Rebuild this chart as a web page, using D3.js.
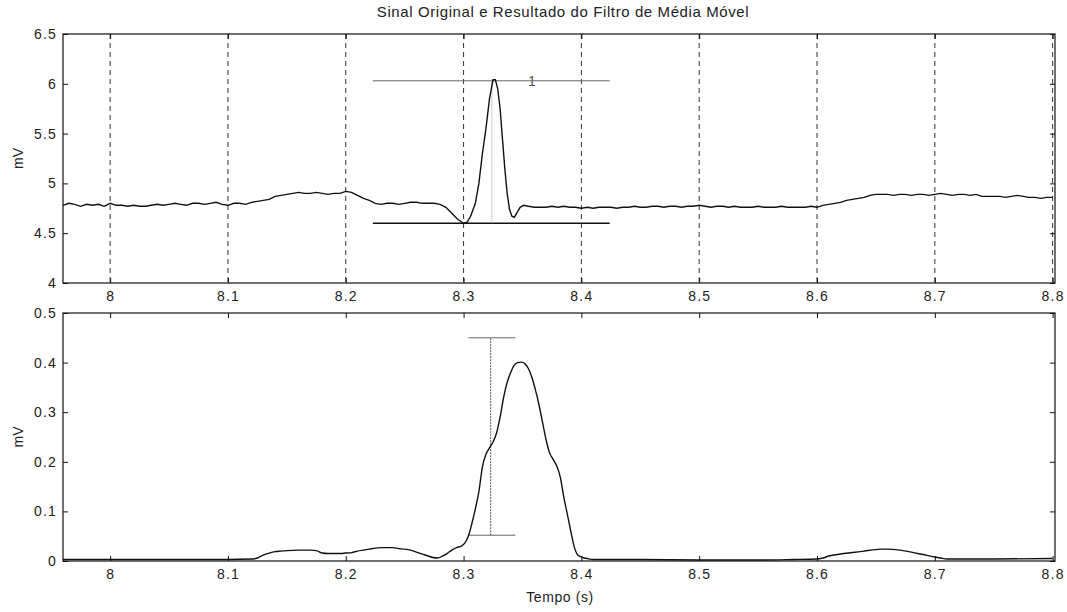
<!DOCTYPE html>
<html>
<head>
<meta charset="utf-8">
<script src="https://cdnjs.cloudflare.com/ajax/libs/d3/7.8.5/d3.min.js"></script>
<style>
  body { margin: 0; background: #fff; }
  text { font-family: "Liberation Sans", Arial, sans-serif; }
</style>
</head>
<body>
<div id="chart"></div>
<script>
// sinal original (t em s, mV)
const sinalOriginal = [
  [7.960,4.78],[7.965,4.80],[7.970,4.79],[7.975,4.77],[7.980,4.79],[7.985,4.78],[7.990,4.79],[7.995,4.77],
  [8.000,4.80],[8.005,4.78],[8.010,4.78],[8.015,4.77],[8.020,4.78],[8.025,4.77],[8.030,4.77],[8.035,4.78],
  [8.040,4.79],[8.045,4.78],[8.050,4.79],[8.055,4.80],[8.060,4.79],[8.065,4.78],[8.070,4.80],[8.075,4.80],
  [8.080,4.79],[8.085,4.80],[8.090,4.81],[8.095,4.79],[8.100,4.78],[8.105,4.80],[8.110,4.80],[8.115,4.79],
  [8.120,4.81],[8.125,4.82],[8.130,4.83],[8.135,4.84],[8.140,4.87],[8.145,4.88],[8.150,4.89],[8.155,4.90],
  [8.160,4.91],[8.165,4.90],[8.170,4.90],[8.175,4.91],[8.180,4.90],[8.185,4.89],[8.190,4.90],[8.195,4.90],
  [8.200,4.92],[8.205,4.91],[8.210,4.88],[8.215,4.85],[8.220,4.83],[8.225,4.80],[8.230,4.79],[8.235,4.80],
  [8.240,4.80],[8.245,4.79],[8.250,4.80],[8.255,4.81],[8.260,4.81],[8.265,4.80],[8.270,4.80],[8.275,4.80],
  [8.280,4.79],[8.285,4.76],[8.290,4.70],[8.295,4.64],[8.300,4.60],[8.303,4.61],[8.306,4.67],[8.310,4.80],
  [8.313,5.00],[8.316,5.30],[8.319,5.55],[8.322,5.85],[8.325,6.04],[8.327,6.04],[8.329,5.95],[8.331,5.75],
  [8.333,5.45],[8.335,5.15],[8.337,4.90],[8.339,4.74],[8.341,4.67],[8.343,4.66],[8.345,4.70],[8.348,4.76],
  [8.351,4.78],[8.355,4.77],[8.360,4.76],[8.365,4.76],[8.370,4.76],[8.375,4.77],[8.380,4.76],[8.385,4.77],
  [8.390,4.76],[8.395,4.76],[8.400,4.75],[8.405,4.76],[8.410,4.75],[8.415,4.76],[8.420,4.76],[8.425,4.76],
  [8.430,4.75],[8.435,4.76],[8.440,4.76],[8.445,4.77],[8.450,4.76],[8.455,4.76],[8.460,4.77],[8.465,4.77],
  [8.470,4.76],[8.475,4.77],[8.480,4.77],[8.485,4.76],[8.490,4.77],[8.495,4.77],[8.500,4.78],[8.505,4.77],
  [8.510,4.76],[8.515,4.77],[8.520,4.77],[8.525,4.76],[8.530,4.77],[8.535,4.76],[8.540,4.76],[8.545,4.76],
  [8.550,4.77],[8.555,4.76],[8.560,4.76],[8.565,4.76],[8.570,4.77],[8.575,4.76],[8.580,4.76],[8.585,4.76],
  [8.590,4.76],[8.595,4.77],[8.600,4.76],[8.605,4.78],[8.610,4.79],[8.615,4.80],[8.620,4.81],[8.625,4.83],
  [8.630,4.84],[8.635,4.85],[8.640,4.86],[8.645,4.88],[8.650,4.89],[8.655,4.89],[8.660,4.89],[8.665,4.88],
  [8.670,4.89],[8.675,4.89],[8.680,4.88],[8.685,4.89],[8.690,4.89],[8.695,4.88],[8.700,4.89],[8.705,4.90],
  [8.710,4.89],[8.715,4.88],[8.720,4.89],[8.725,4.89],[8.730,4.88],[8.735,4.89],[8.740,4.87],[8.745,4.87],
  [8.750,4.87],[8.755,4.87],[8.760,4.86],[8.765,4.87],[8.770,4.88],[8.775,4.87],[8.780,4.86],[8.785,4.86],
  [8.790,4.85],[8.795,4.86],[8.800,4.86]
];

// resultado do filtro de media movel
const sinalFiltrado = [
  [7.960,0.003],[8.000,0.003],[8.050,0.003],[8.100,0.003],[8.120,0.004],[8.125,0.006],[8.130,0.012],
  [8.135,0.016],[8.140,0.019],[8.145,0.020],[8.150,0.021],[8.160,0.022],[8.170,0.022],[8.175,0.021],
  [8.180,0.016],[8.185,0.015],[8.190,0.015],[8.195,0.015],[8.200,0.016],[8.205,0.017],[8.210,0.020],
  [8.215,0.022],[8.220,0.024],[8.225,0.026],[8.230,0.027],[8.235,0.027],[8.240,0.027],[8.245,0.025],
  [8.250,0.024],[8.255,0.022],[8.260,0.018],[8.265,0.014],[8.270,0.010],[8.274,0.007],[8.278,0.006],
  [8.282,0.010],[8.286,0.015],[8.290,0.022],[8.294,0.027],[8.298,0.030],[8.301,0.036],[8.304,0.050],
  [8.307,0.075],[8.310,0.105],[8.313,0.140],[8.316,0.190],[8.319,0.215],[8.322,0.228],[8.325,0.240],
  [8.328,0.258],[8.331,0.290],[8.334,0.330],[8.337,0.360],[8.340,0.380],[8.343,0.395],[8.346,0.400],
  [8.349,0.401],[8.352,0.398],[8.355,0.388],[8.358,0.370],[8.361,0.345],[8.364,0.315],[8.367,0.280],
  [8.370,0.245],[8.373,0.218],[8.376,0.205],[8.379,0.192],[8.382,0.170],[8.385,0.130],[8.388,0.095],
  [8.391,0.060],[8.394,0.028],[8.397,0.012],[8.400,0.008],[8.405,0.005],[8.410,0.003],[8.450,0.003],
  [8.500,0.002],[8.550,0.002],[8.580,0.003],[8.600,0.004],[8.605,0.006],[8.610,0.010],[8.620,0.014],
  [8.630,0.017],[8.640,0.020],[8.650,0.023],[8.655,0.024],[8.660,0.024],[8.670,0.022],[8.680,0.018],
  [8.690,0.013],[8.700,0.008],[8.705,0.006],[8.710,0.004],[8.750,0.004],[8.800,0.005]
];

let xTicks = [8, 8.1, 8.2, 8.3, 8.4, 8.5, 8.6, 8.7, 8.8];
let yTicksTop = [4, 4.5, 5, 5.5, 6, 6.5];
let yTicksBottom = [0, 0.1, 0.2, 0.3, 0.4, 0.5];

// marcacoes do pico (linhas de referencia)
let refTop = { t0: 8.223, t1: 8.424, alto: 6.03, baixo: 4.60, tPico: 8.324 };
let refBottom = { t0: 8.304, t1: 8.344, alto: 0.45, baixo: 0.052, tPico: 8.323 };

let svgWidth = 1067;
let svgHeight = 612;

let svg = d3.select("#chart")
  .append("svg")
    .attr("width", svgWidth)
    .attr("height", svgHeight)
    .style("background-color", "white");

let x = d3.scaleLinear().domain([7.96, 8.802]).range([63, 1055]);
let yTop = d3.scaleLinear().domain([4, 6.5]).range([283, 34]);
let yBot = d3.scaleLinear().domain([0, 0.5]).range([561, 313]);

let fmt = d => String(+d.toFixed(2));

function drawAxes(g, y, yTicks, grid) {
  let [y0, y1] = y.range();
  let [x0, x1] = x.range();

  if (grid) {
    g.append("g").selectAll("line").data(xTicks).enter()
      .append("line")
      .attr("x1", d => x(d)).attr("x2", d => x(d))
      .attr("y1", y1).attr("y2", y0)
      .attr("stroke", "#333")
      .attr("stroke-width", 1)
      .attr("stroke-dasharray", "5,4");
  }

  // ticks para dentro em todos os lados (estilo matlab)
  g.append("g").attr("transform", `translate(0,${y0})`)
    .call(d3.axisBottom(x).tickValues(xTicks).tickFormat(fmt).tickSize(-5).tickPadding(8));
  g.append("g").attr("transform", `translate(0,${y1})`)
    .call(d3.axisTop(x).tickValues(xTicks).tickFormat("").tickSize(-5));
  g.append("g").attr("transform", `translate(${x0},0)`)
    .call(d3.axisLeft(y).tickValues(yTicks).tickFormat(fmt).tickSize(-5).tickPadding(6));
  g.append("g").attr("transform", `translate(${x1},0)`)
    .call(d3.axisRight(y).tickValues(yTicks).tickFormat("").tickSize(-5));

  g.selectAll(".domain").remove();
  g.selectAll(".tick line").attr("stroke", "#111");
  g.selectAll(".tick text")
    .attr("fill", "#222")
    .style("font-size", "14px")
    .style("letter-spacing", "1.2px")
    .style("font-family", "'Liberation Sans', Arial, sans-serif");

  g.append("rect")
    .attr("x", x0).attr("y", y1)
    .attr("width", x1 - x0).attr("height", y0 - y1)
    .attr("fill", "none")
    .attr("stroke", "#111")
    .attr("stroke-width", 1.2);
}

let topG = svg.append("g");
let botG = svg.append("g");

drawAxes(topG, yTop, yTicksTop, true);
drawAxes(botG, yBot, yTicksBottom, false);

// linhas de referencia do painel de cima
topG.append("line")
  .attr("x1", x(refTop.t0)).attr("x2", x(refTop.t1))
  .attr("y1", yTop(refTop.alto)).attr("y2", yTop(refTop.alto))
  .attr("stroke", "#666").attr("stroke-width", 1);
topG.append("line")
  .attr("x1", x(refTop.t0)).attr("x2", x(refTop.t1))
  .attr("y1", yTop(refTop.baixo)).attr("y2", yTop(refTop.baixo))
  .attr("stroke", "#111").attr("stroke-width", 1.3);
topG.append("line")
  .attr("x1", x(refTop.tPico)).attr("x2", x(refTop.tPico))
  .attr("y1", yTop(refTop.baixo)).attr("y2", yTop(refTop.alto))
  .attr("stroke", "#999").attr("stroke-width", 1)
  .attr("stroke-dasharray", "1,1");
topG.append("text")
  .attr("x", x(8.358)).attr("y", yTop(refTop.alto) + 5)
  .attr("text-anchor", "middle")
  .attr("fill", "#555")
  .style("font-size", "14px")
  .text("1");

// barra do painel de baixo
botG.append("line")
  .attr("x1", x(refBottom.tPico)).attr("x2", x(refBottom.tPico))
  .attr("y1", yBot(refBottom.baixo)).attr("y2", yBot(refBottom.alto))
  .attr("stroke", "#555").attr("stroke-width", 1)
  .attr("stroke-dasharray", "2,1");
[refBottom.alto, refBottom.baixo].forEach(v => {
  botG.append("line")
    .attr("x1", x(refBottom.t0)).attr("x2", x(refBottom.t1))
    .attr("y1", yBot(v)).attr("y2", yBot(v))
    .attr("stroke", "#666").attr("stroke-width", 1);
});

let lineTop = d3.line().x(d => x(d[0])).y(d => yTop(d[1]));
let lineBot = d3.line().x(d => x(d[0])).y(d => yBot(d[1])).curve(d3.curveMonotoneX);

topG.append("path")
  .attr("d", lineTop(sinalOriginal))
  .attr("fill", "none")
  .attr("stroke", "#111")
  .attr("stroke-width", 1.4);

botG.append("path")
  .attr("d", lineBot(sinalFiltrado))
  .attr("fill", "none")
  .attr("stroke", "#111")
  .attr("stroke-width", 1.4);

// textos
svg.append("text")
  .attr("x", 563).attr("y", 17)
  .attr("text-anchor", "middle")
  .attr("fill", "#222")
  .style("font-size", "15px")
  .style("letter-spacing", "0.6px")
  .text("Sinal Original e Resultado do Filtro de Média Móvel");

[[yTop, "mV"], [yBot, "mV"]].forEach(([y, label]) => {
  let yc = (y.range()[0] + y.range()[1]) / 2;
  svg.append("text")
    .attr("transform", `translate(23,${yc}) rotate(-90)`)
    .attr("text-anchor", "middle")
    .attr("fill", "#222")
    .style("font-size", "14px")
    .text(label);
});

svg.append("text")
  .attr("x", 560).attr("y", 602)
  .attr("text-anchor", "middle")
  .attr("fill", "#222")
  .style("font-size", "14px")
  .style("letter-spacing", "0.6px")
  .text("Tempo (s)");
</script>
</body>
</html>
